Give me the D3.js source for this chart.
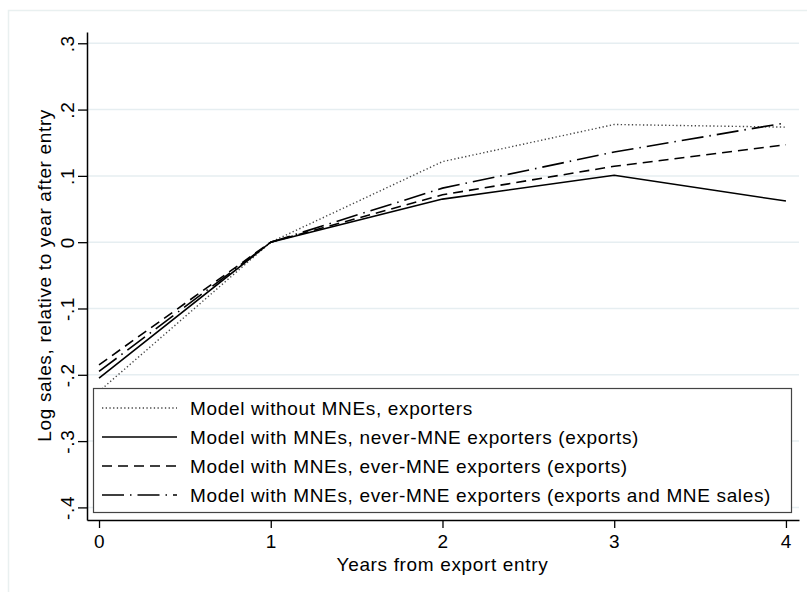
<!DOCTYPE html>
<html>
<head>
<meta charset="utf-8">
<script src="https://cdn.jsdelivr.net/npm/d3@7"></script>
<style>
	body { margin: 0; background: #fff; }
	svg { display: block; font-family: "Liberation Sans", Arial, sans-serif; letter-spacing: 0.65px; }
</style>
</head>
<body>
<div data-chart></div>
<script>
const dimensions = {
	width: 807,
	height: 592,
	left: 87,
	right: 799,
	top: 32,
	bottom: 520
}

// data
const years = [0, 1, 2, 3, 4]
const noMneExporters = [-0.225, 0, 0.1215, 0.1775, 0.1735]
const neverMneExports = [-0.205, 0, 0.065, 0.101, 0.062]
const everMneExports = [-0.185, 0, 0.0715, 0.1145, 0.147]
const everMneAllSales = [-0.195, 0, 0.0815, 0.136, 0.18]

const xTicks = [0, 1, 2, 3, 4]
const yTicks = [-0.4, -0.3, -0.2, -0.1, 0, 0.1, 0.2, 0.3]
const yTickLabels = ['-.4', '-.3', '-.2', '-.1', '0', '.1', '.2', '.3']

const seriesNames = [
	'Model without MNEs, exporters',
	'Model with MNEs, never-MNE exporters (exports)',
	'Model with MNEs, ever-MNE exporters (exports)',
	'Model with MNEs, ever-MNE exporters (exports and MNE sales)'
]
const seriesValues = [noMneExporters, neverMneExports, everMneExports, everMneAllSales]
const seriesDash = ['1.3,2.4', null, '10,6', '22,6,1.5,6']

const series = seriesNames.map((name, i) => ({
	name,
	dash: seriesDash[i],
	values: years.map((year, j) => ({ year, value: seriesValues[i][j] }))
}))

const svg = d3.select('[data-chart]')
	.append('svg')
	.attr('width', dimensions.width)
	.attr('height', dimensions.height)

/* Outer frame */
svg.append('rect')
	.attr('x', 8.5)
	.attr('y', 10.5)
	.attr('width', 830)
	.attr('height', 620)
	.attr('fill', 'none')
	.attr('stroke', '#e9f0f0')
	.attr('stroke-width', 1.5)

const xScale = d3.scaleLinear()
	.domain([-0.07, 4.076])
	.range([dimensions.left, dimensions.right])

const yScale = d3.scaleLinear()
	.domain([-0.419, 0.317])
	.range([dimensions.bottom, dimensions.top])

/* Gridlines */
svg.append('g')
	.selectAll('line')
	.data(yTicks)
	.join('line')
	.attr('x1', dimensions.left)
	.attr('x2', dimensions.right)
	.attr('y1', (d) => yScale(d))
	.attr('y2', (d) => yScale(d))
	.attr('stroke', '#e6eef1')
	.attr('stroke-width', 1.5)

/* Lines */
const lineGenerator = d3.line()
	.x((d) => xScale(d.year))
	.y((d) => yScale(d.value))

svg.append('g')
	.selectAll('path')
	.data(series)
	.join('path')
	.attr('d', (d) => lineGenerator(d.values))
	.attr('fill', 'none')
	.attr('stroke', (d, i) => i === 0 ? '#444' : '#000')
	.attr('stroke-width', (d, i) => i === 0 ? 1.4 : 1.6)
	.attr('stroke-dasharray', (d) => d.dash)

/* Legend */
const legend = svg.append('g')

legend.append('rect')
	.attr('x', 93.5)
	.attr('y', 388.5)
	.attr('width', 698)
	.attr('height', 124)
	.attr('fill', '#fff')
	.attr('stroke', '#444')
	.attr('stroke-width', 1.2)

const rows = legend.selectAll('g')
	.data(series)
	.join('g')
	.attr('transform', (d, i) => `translate(0, ${408 + i * 29})`)

rows.append('line')
	.attr('x1', 102)
	.attr('x2', 177)
	.attr('stroke', (d, i) => i === 0 ? '#444' : '#000')
	.attr('stroke-width', (d, i) => i === 0 ? 1.4 : 1.6)
	.attr('stroke-dasharray', (d) => d.dash)

rows.append('text')
	.attr('x', 190)
	.attr('dy', '0.35em')
	.attr('font-size', 19)
	.text((d) => d.name)

/* Axes */
const xAxis = svg.append('g')
	.attr('transform', `translate(0, ${dimensions.bottom})`)
	.call(d3.axisBottom(xScale).tickValues(xTicks).tickFormat(d3.format('d')).tickSize(8).tickSizeOuter(0))

xAxis.select('.domain').attr('stroke-width', 1.5)
xAxis.selectAll('.tick line').attr('stroke-width', 1.3)
xAxis.selectAll('.tick text')
	.attr('font-size', 19)
	.attr('y', 15)

const yAxis = svg.append('g')
	.attr('transform', `translate(${dimensions.left}, 0)`)
	.call(d3.axisLeft(yScale).tickValues(yTicks).tickFormat((d, i) => yTickLabels[i]).tickSize(9).tickSizeOuter(0))

yAxis.select('.domain').attr('stroke-width', 1.5)
yAxis.selectAll('.tick line').attr('stroke-width', 1.3)
yAxis.selectAll('.tick text')
	.attr('font-size', 19)
	.attr('transform', 'rotate(-90)')
	.attr('text-anchor', 'middle')
	.attr('x', 0)
	.attr('y', -13)
	.attr('dy', 0)

svg.selectAll('g[font-family]').attr('font-family', null)

/* Axis titles */
svg.append('text')
	.attr('x', xScale(2))
	.attr('y', 571)
	.attr('text-anchor', 'middle')
	.attr('font-size', 19)
	.text('Years from export entry')

svg.append('text')
	.attr('transform', `translate(51, ${yScale(-0.05)}) rotate(-90)`)
	.attr('text-anchor', 'middle')
	.attr('font-size', 19)
	.text('Log sales, relative to year after entry')
</script>
</body>
</html>
